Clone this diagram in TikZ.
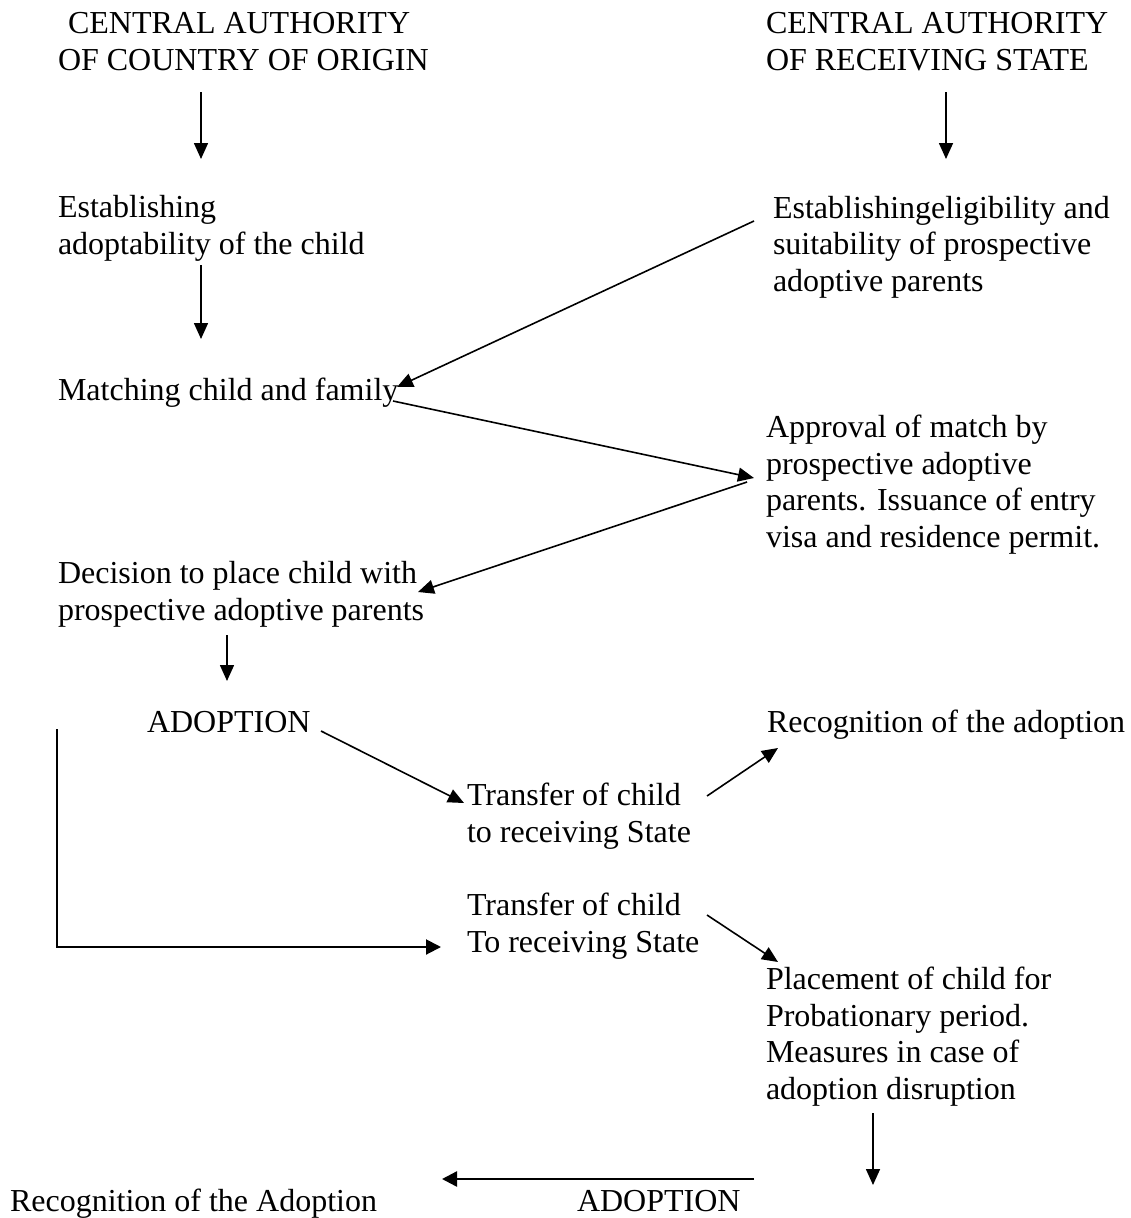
\documentclass[tikz,border=0pt]{standalone}
\usepackage{fontspec}
\setmainfont{Liberation Serif}
\usetikzlibrary{arrows.meta}
\begin{document}
\begin{tikzpicture}[x=1pt,y=-1pt,
  txt/.style={anchor=base west,inner sep=0pt,outer sep=0pt,align=left,
    font=\fontsize{32}{36.5}\selectfont},
  arr/.style={line width=1.6pt,-{Triangle[length=16pt,width=14pt]}},
  thickarr/.style={line width=2.4pt,-{Triangle[length=15pt,width=15pt]}}]
\useasboundingbox[fill=white] (0,0) rectangle (1130,1218);
% text nodes (anchor = baseline of the last line)
\node[txt] (hdrL) at (58,70) {\hspace*{10pt}CENTRAL AUTHORITY\\OF COUNTRY OF ORIGIN};
\node[txt] (hdrR) at (766,70) {CENTRAL AUTHORITY\\OF RECEIVING STATE};
\node[txt] (estL) at (58,254) {Establishing\\adoptability of the child};
\node[txt] (estR) at (773,291) {Establishingeligibility and\\suitability of prospective\\adoptive parents};
\node[txt] (match) at (58,400) {Matching child and family};
\node[txt] (approval) at (766,547) {Approval of match by\\prospective adoptive\\parents. Issuance of entry\\visa and residence permit.};
\node[txt] (decision) at (58,620) {Decision to place child with\\prospective adoptive parents};
\node[txt] (adopt1) at (147,732) {ADOPTION};
\node[txt] (recog1) at (767,732) {Recognition of the adoption};
\node[txt] (transfer1) at (467,842) {Transfer of child\\to receiving State};
\node[txt] (transfer2) at (467,952) {Transfer of child\\To receiving State};
\node[txt] (placement) at (766,1099) {Placement of child for\\Probationary period.\\Measures in case of\\adoption disruption};
\node[txt] (adopt2) at (577,1211) {ADOPTION};
\node[txt] (recog2) at (10,1211) {Recognition of the Adoption};
% connector end points
\coordinate (h1s) at (201,92);   \coordinate (h1e) at (201,159);
\coordinate (h2s) at (946,92);   \coordinate (h2e) at (946,159);
\coordinate (e1s) at (201,265);  \coordinate (e1e) at (201,339);
\coordinate (e2s) at (754,221);  \coordinate (e2e) at (397,387);
\coordinate (m1s) at (393,401);  \coordinate (m1e) at (754,478);
\coordinate (p1s) at (747,482);  \coordinate (p1e) at (418,592);
\coordinate (d1s) at (227,635);  \coordinate (d1e) at (227,681);
\coordinate (ad1s) at (321,731); \coordinate (ad1e) at (464,803);
\coordinate (t1s) at (707,796);  \coordinate (t1e) at (778,748);
\coordinate (els) at (57,729);   \coordinate (ele) at (441,947);
\coordinate (t2s) at (707,915);  \coordinate (t2e) at (778,962);
\coordinate (pls) at (873,1113); \coordinate (ple) at (873,1185);
\coordinate (ad2s) at (754,1179);\coordinate (ad2e) at (442,1179);
% connectors
\draw[arr] (h1s) -- (h1e);
\draw[arr] (h2s) -- (h2e);
\draw[arr] (e1s) -- (e1e);
\draw[arr] (e2s) -- (e2e);
\draw[arr] (m1s) -- (m1e);
\draw[arr] (p1s) -- (p1e);
\draw[arr] (d1s) -- (d1e);
\draw[arr] (ad1s) -- (ad1e);
\draw[arr] (t1s) -- (t1e);
\draw[thickarr,line width=2pt] (els) |- (ele);
\draw[arr] (t2s) -- (t2e);
\draw[arr] (pls) -- (ple);
\draw[thickarr] (ad2s) -- (ad2e);
\end{tikzpicture}
\end{document}
